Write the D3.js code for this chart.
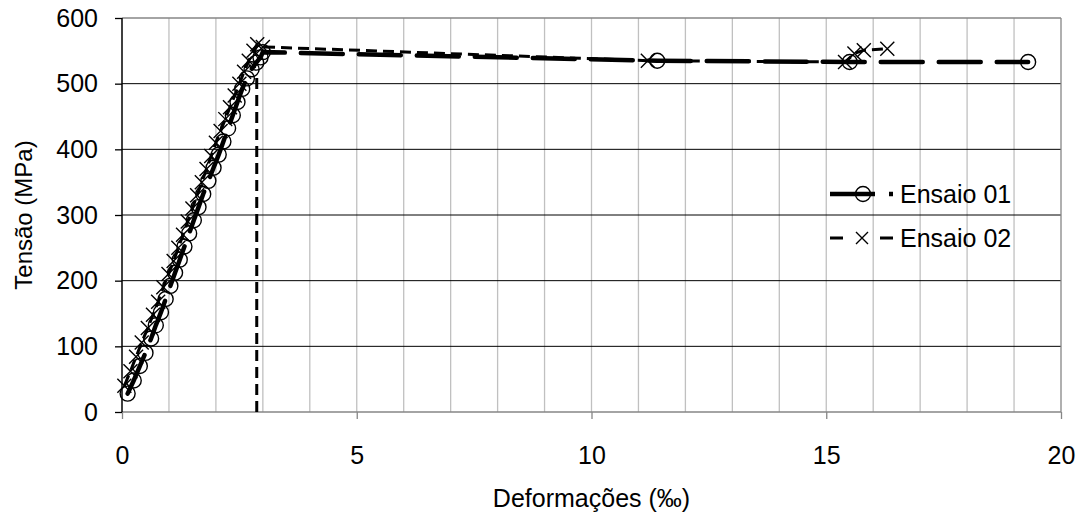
<!DOCTYPE html>
<html><head><meta charset="utf-8">
<script src="https://cdn.jsdelivr.net/npm/d3@7"></script>
<style>body{margin:0;background:#fff}svg{display:block}text{font-family:"Liberation Sans",Arial,sans-serif;fill:#000}</style>
</head><body><svg id="c" width="1080" height="515"></svg>
<script>
const xTicks = [0, 5, 10, 15, 20];
const yTicks = [0, 100, 200, 300, 400, 500, 600];
const seriesNames = ["Ensaio 01", "Ensaio 02"];

const e01Strain = [0.12,0.25,0.38,0.5,0.62,0.72,0.83,0.93,1.03,1.13,1.23,1.33,1.43,1.53,1.63,1.73,1.84,1.95,2.06,2.16,2.26,2.36,2.46,2.56,2.66,2.76,2.86,2.95,3.0,11.4,15.5,19.3];
const e01Stress = [28,48,70,90,112,132,152,172,192,212,232,252,272,292,312,332,352,372,392,412,432,452,472,492,508,522,532,540,548,535,533,533];

const e02Strain = [0.05,0.18,0.3,0.42,0.55,0.66,0.77,0.88,0.99,1.1,1.2,1.3,1.4,1.5,1.6,1.7,1.8,1.9,2.0,2.1,2.2,2.3,2.4,2.5,2.6,2.7,2.8,2.88,3.0,11.2,15.4,15.6,15.8,16.3];
const e02Stress = [40,62,84,106,128,148,168,190,210,230,250,270,290,310,330,350,370,390,410,428,446,464,482,500,518,535,550,560,556,535,533,546,551,553];
const e02DropStrain = [2.87, 2.87];
const e02DropStress = [0, 510];

const FS = 25;
const svg = d3.select("#c");
const L = 122, R = 1061, T = 18, B = 412;
const x = d3.scaleLinear().domain([0, 20]).range([L, R]);
const y = d3.scaleLinear().domain([0, 600]).range([B, T]);

// vertical gridlines
svg.append("g").selectAll("line").data(d3.range(1, 20)).join("line")
  .attr("x1", d => x(d)).attr("x2", d => x(d)).attr("y1", T).attr("y2", B)
  .attr("stroke", "#c0c0c0").attr("stroke-width", 1.3);
// horizontal gridlines
svg.append("g").selectAll("line").data(yTicks.filter(v => v > 0 && v < 600)).join("line")
  .attr("x1", L).attr("x2", R).attr("y1", d => y(d)).attr("y2", d => y(d))
  .attr("stroke", "#000").attr("stroke-width", 1);
// frame top/right
svg.append("line").attr("x1", L).attr("x2", R).attr("y1", T).attr("y2", T).attr("stroke", "#868686").attr("stroke-width", 1.3);
svg.append("line").attr("x1", R).attr("x2", R).attr("y1", T).attr("y2", B).attr("stroke", "#868686").attr("stroke-width", 1.3);

// x axis
const xAxis = svg.append("g").attr("transform", `translate(0,${B})`)
  .call(d3.axisBottom(x).tickValues(xTicks).tickSize(7).tickPadding(27).tickFormat(d3.format("d")));
xAxis.selectAll(".tick line").attr("stroke", "#868686").attr("stroke-width", 1.3);
xAxis.selectAll("text").attr("font-size", FS).attr("font-family", "Liberation Sans, Arial, sans-serif").attr("fill", "#000");

// y axis
const yAxis = svg.append("g").attr("transform", `translate(${L},0)`)
  .call(d3.axisLeft(y).tickValues(yTicks).tickSize(7).tickPadding(17).tickFormat(d3.format("d")));
yAxis.selectAll(".tick line").attr("stroke", "#000").attr("stroke-width", 1.3);
yAxis.selectAll("text").attr("font-size", FS).attr("font-family", "Liberation Sans, Arial, sans-serif").attr("fill", "#000");
svg.selectAll(".domain").remove();
xAxis.append("line").attr("x1", 0).attr("x2", R).attr("y1", 0).attr("y2", 0).attr("stroke", "#868686").attr("stroke-width", 1.3).attr("x1", L);
yAxis.append("line").attr("x1", 0).attr("x2", 0).attr("y1", T).attr("y2", B).attr("stroke", "#000").attr("stroke-width", 1.5);

// titles
svg.append("text").attr("x", (L + R) / 2).attr("y", 507).attr("text-anchor", "middle").attr("font-size", FS).text("Deformações (‰)");
svg.append("text").attr("transform", `translate(32,${(T + B) / 2}) rotate(-90)`).attr("text-anchor", "middle").attr("font-size", FS - 1).text("Tensão (MPa)");

const line = d3.line().x(d => x(d[0])).y(d => y(d[1]));
const d01 = e01Strain.map((v, i) => [v, e01Stress[i]]);
const d02 = e02Strain.map((v, i) => [v, e02Stress[i]]);
const dDrop = e02DropStrain.map((v, i) => [v, e02DropStress[i]]);

const dash02 = "11,6";
const dash01 = "42,16";

svg.append("path").datum(dDrop).attr("d", line).attr("fill", "none").attr("stroke", "#000").attr("stroke-width", 3).attr("stroke-dasharray", dash02);
svg.append("path").datum(d02).attr("d", line).attr("fill", "none").attr("stroke", "#000").attr("stroke-width", 3).attr("stroke-dasharray", dash02);
svg.append("path").datum(d01).attr("d", line).attr("fill", "none").attr("stroke", "#000").attr("stroke-width", 4.5).attr("stroke-dasharray", dash01).attr("stroke-linecap", "round");

function crossAt(g, px, py, h) {
  g.append("path").attr("d", `M${-h},${-h}L${h},${h}M${-h},${h}L${h},${-h}`)
    .attr("transform", `translate(${px},${py})`).attr("fill", "none").attr("stroke", "#000").attr("stroke-width", 1.4);
}
const gm = svg.append("g");
d02.forEach(d => crossAt(gm, x(d[0]), y(d[1]), 7));
gm.selectAll("circle").data(d01).join("circle")
  .attr("cx", d => x(d[0])).attr("cy", d => y(d[1])).attr("r", 7.5)
  .attr("fill", "none").attr("stroke", "#000").attr("stroke-width", 1.4);

// legend
const lg = svg.append("g");
const rows = [194, 238];
lg.append("line").attr("x1", 830).attr("x2", 893).attr("y1", rows[0]).attr("y2", rows[0]).attr("stroke", "#000").attr("stroke-width", 4.5).attr("stroke-dasharray", "45,14,4,20").attr("stroke-linecap", "butt");
lg.append("circle").attr("cx", 863).attr("cy", rows[0]).attr("r", 7.5).attr("fill", "none").attr("stroke", "#000").attr("stroke-width", 1.4);
lg.append("line").attr("x1", 830).attr("x2", 893).attr("y1", rows[1]).attr("y2", rows[1]).attr("stroke", "#000").attr("stroke-width", 3).attr("stroke-dasharray", "13,37,13,20");
crossAt(lg, 862, rows[1], 6);
lg.selectAll("text").data(seriesNames).join("text")
  .attr("x", 900).attr("y", (d, i) => rows[i] + 9).attr("font-size", FS).text(d => d);
</script></body></html>
